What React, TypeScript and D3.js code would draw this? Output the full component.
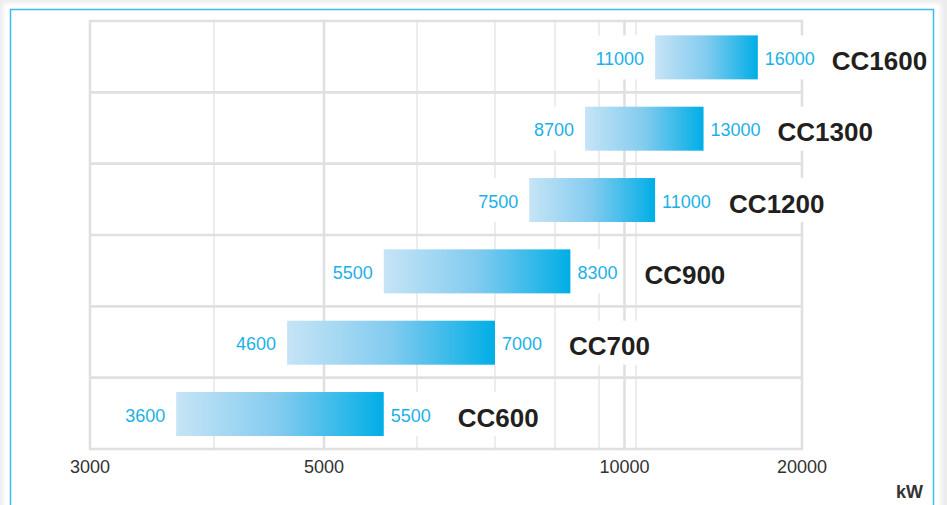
import React from "react";
import * as d3 from "d3";

// ---- data ----
const models = ["CC600", "CC700", "CC900", "CC1200", "CC1300", "CC1600"];
const minKW = [3600, 4600, 5500, 7500, 8700, 11000];
const maxKW = [5500, 7000, 8300, 11000, 13000, 16000];
const axisTicks = [3000, 5000, 10000, 20000];
// unlabelled grid lines of the (hand-drawn, non-uniform) kW axis
const gridValues = [3000, 3900, 5000, 5800, 7000, 7900, 9100, 10000, 10300, 20000];
const unitLabel = "kW";

// ---- layout ----
const W = 947;
const H = 505;
const plot = { left: 90, right: 802, top: 21, bottom: 449 };
// axis calibration of the non-uniform kW axis: knot values and where they sit (fraction of plot width)
const knotValues = [3000, 3900, 5000, 5800, 7000, 7900, 9100, 10000, 10300, 15000, 20000];
const knotFrac = [0, 0.1742, 0.3287, 0.4593, 0.5688, 0.6531, 0.7149, 0.7507, 0.7669, 0.92, 1];

const valueFont = 18;
const nameFont = 26;
const textW = (s: string, size: number) =>
  s.split("").reduce((a, c) => a + (/[0-9]/.test(c) ? 0.556 : c === "C" ? 0.722 : 0.6), 0) * size;

export default function App() {
  const x = d3
    .scaleLog()
    .domain(knotValues)
    .range(knotFrac.map((f) => plot.left + f * (plot.right - plot.left)));

  const y = d3
    .scaleBand<string>()
    .domain([...models].reverse())
    .range([plot.top, plot.bottom])
    .padding(0);

  const barH = 44;
  const bw = y.bandwidth();
  const rows = models.map((m, i) => {
    const y0 = (y(m) as number) + (bw - barH) / 2 + 0.7;
    return { m, lo: minKW[i], hi: maxKW[i], y0, cy: y0 + barH / 2 };
  });

  const gridStroke = "#e0e0e0";
  const rowLines = y.domain().map((m) => y(m) as number).concat([plot.bottom]);

  return (
    <svg
      width={W}
      height={H}
      style={{ position: "absolute", left: 0, top: 0 }}
      fontFamily="'Liberation Sans', Arial, Helvetica, sans-serif"
    >
      <defs>
        <linearGradient id="barGrad" x1="0" x2="1" y1="0" y2="0">
          <stop offset="0%" stopColor="#c6e4f6" />
          <stop offset="50%" stopColor="#82cbef" />
          <stop offset="100%" stopColor="#00aee6" />
        </linearGradient>
        <filter id="soft" x="-5%" y="-5%" width="110%" height="110%">
          <feGaussianBlur stdDeviation="2" />
        </filter>
      </defs>

      {/* page background */}
      <rect x={0} y={0} width={W} height={H} fill="#ececec" />
      <rect x={3} y={3} width={938} height={H + 10} fill="#ffffff" filter="url(#soft)" />
      <rect x={6} y={6} width={932} height={H} fill="#ffffff" />
      <rect x={10.5} y={9.5} width={923} height={H + 20} fill="none" stroke="#3bbde8" strokeWidth={1.5} />

      {/* horizontal grid lines */}
      {rowLines.map((yy, i) => (
        <line key={"h" + i} x1={plot.left} x2={plot.right} y1={yy} y2={yy} stroke={gridStroke} strokeWidth={2.6} />
      ))}

      {/* vertical grid lines */}
      {gridValues.map((v, i) => {
        const major = axisTicks.includes(v);
        return (
          <line
            key={"v" + i}
            x1={x(v)}
            x2={x(v)}
            y1={plot.top - 1.3}
            y2={plot.bottom + 1.3}
            stroke={gridStroke}
            strokeWidth={major ? 2.6 : 1.2}
          />
        );
      })}

      {/* bars with labels */}
      {rows.map((r) => {
        const loTxt = String(r.lo);
        const hiTxt = String(r.hi);
        const loEnd = x(r.lo) - 11;
        const hiStart = x(r.hi) + 7;
        const nameX = x(r.hi) + 74;
        const loW = textW(loTxt, valueFont);
        const hiW = textW(hiTxt, valueFont);
        const nmW = textW(r.m, nameFont);
        return (
          <g key={"l" + r.m}>
            <rect x={loEnd - loW - 3} y={r.y0} width={loW + 14} height={barH} fill="#fff" />
            <rect x={hiStart - 7} y={r.y0} width={hiW + 10} height={barH} fill="#fff" />
            <rect x={nameX - 3} y={r.y0} width={nmW + 6} height={barH} fill="#fff" />
            <rect
              x={x(r.lo)}
              y={r.y0}
              width={x(r.hi) - x(r.lo)}
              height={barH}
              fill="url(#barGrad)"
            />
            <text x={loEnd} y={r.cy + 7.5} textAnchor="end" fontSize={valueFont} fill="#1bb1e8">
              {loTxt}
            </text>
            <text x={hiStart} y={r.cy + 7.5} textAnchor="start" fontSize={valueFont} fill="#1bb1e8">
              {hiTxt}
            </text>
            <text x={nameX} y={r.cy + 12.5} textAnchor="start" fontSize={nameFont} fontWeight="bold" fill="#231f20">
              {r.m}
            </text>
          </g>
        );
      })}

      {/* axis tick labels */}
      {axisTicks.map((t) => (
        <text key={"t" + t} x={x(t)} y={472.5} textAnchor="middle" fontSize={valueFont} fill="#333">
          {t}
        </text>
      ))}
      <text x={923} y={498} textAnchor="end" fontSize={18} fontWeight="bold" fill="#333">
        {unitLabel}
      </text>
    </svg>
  );
}
